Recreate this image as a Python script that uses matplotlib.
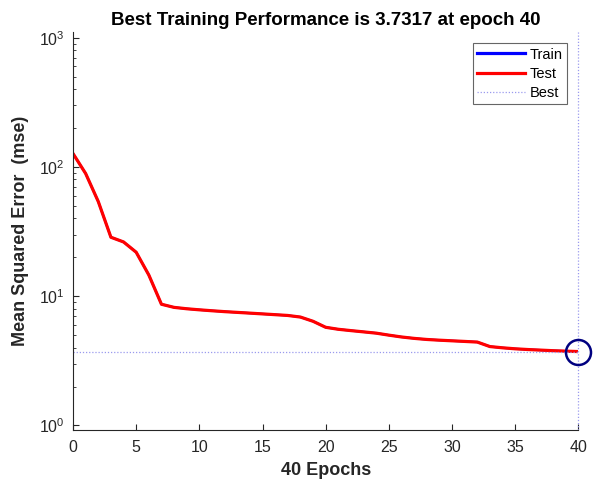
import numpy as np
import matplotlib.pyplot as plt
from matplotlib.ticker import LogLocator, NullFormatter

plt.rcParams['font.family'] = ['Liberation Sans', 'DejaVu Sans']

# mse per epoch (train and test curves coincide)
epochs = list(range(0, 41))
test_mse = [127, 89, 54, 28.6, 26.3, 21.9, 14.6, 8.67, 8.2, 8.0,
            7.85, 7.72, 7.6, 7.5, 7.4, 7.3, 7.2, 7.1, 6.9, 6.4,
            5.75, 5.55, 5.42, 5.3, 5.18, 5.0, 4.84, 4.72, 4.63, 4.57,
            4.52, 4.47, 4.42, 4.08, 3.99, 3.92, 3.87, 3.83, 3.79, 3.76,
            3.7317]
train_mse = list(test_mse)
best_epoch = 40
best_perf = 3.7317

axcol = '#262626'

fig = plt.figure(figsize=(5.95, 4.83), dpi=100)
ax = fig.add_axes([0.1227, 0.1097, 0.8493, 0.824])

# train sits under the test curve, keep it a bit thinner so no blue shows
ax.semilogy(epochs, train_mse, color='#0000ff', lw=1.6, label='Train')
ax.semilogy(epochs, test_mse, color='#ff0000', lw=2.3, label='Test')
ax.axhline(best_perf, color='#9a9aee', lw=0.9, ls=(0, (1, 1.5)), label='Best')
ax.axvline(best_epoch, color='#9a9aee', lw=0.9, ls=(0, (1, 1.5)), clip_on=False)
ax.plot([best_epoch], [best_perf], 'o', mfc='none', mec='#000080', ms=18, mew=1.8,
        clip_on=False, zorder=5)

ax.set_xlim(0, 40)
ax.set_ylim(10 ** -0.035, 10 ** 3.044)
ax.set_xticks(np.arange(0, 41, 5))
ax.yaxis.set_major_locator(LogLocator(base=10, numticks=10))
ax.yaxis.set_minor_locator(LogLocator(base=10, subs=np.arange(2, 10), numticks=20))
ax.yaxis.set_minor_formatter(NullFormatter())

for s in ['top', 'right']:
    ax.spines[s].set_visible(False)
for s in ['left', 'bottom']:
    ax.spines[s].set_color(axcol)
    ax.spines[s].set_linewidth(0.8)
ax.tick_params(which='both', direction='in', colors=axcol, labelsize=11.5)
ax.tick_params(which='major', length=4)
ax.tick_params(axis='x', pad=7)
ax.tick_params(axis='y', pad=6)
ax.tick_params(which='minor', length=2.5)

ax.set_title('Best Training Performance is 3.7317 at epoch 40',
             fontsize=13.5, fontweight='bold', pad=5)
ax.set_xlabel('40 Epochs', fontsize=13, fontweight='bold', color=axcol, labelpad=5)
ax.set_ylabel('Mean Squared Error  (mse)', fontsize=13, fontweight='bold', color=axcol,
              labelpad=7)

leg = ax.legend(loc='upper right', bbox_to_anchor=(0.978, 0.972), fontsize=10.5,
                fancybox=False, edgecolor='#404040', handlelength=3.3, handletextpad=0.3,
                borderpad=0.3, labelspacing=0.35, borderaxespad=0)
leg.get_frame().set_linewidth(0.8)
leg.get_lines()[0].set_linewidth(2.3)

fig.savefig('out.png', dpi=100)
